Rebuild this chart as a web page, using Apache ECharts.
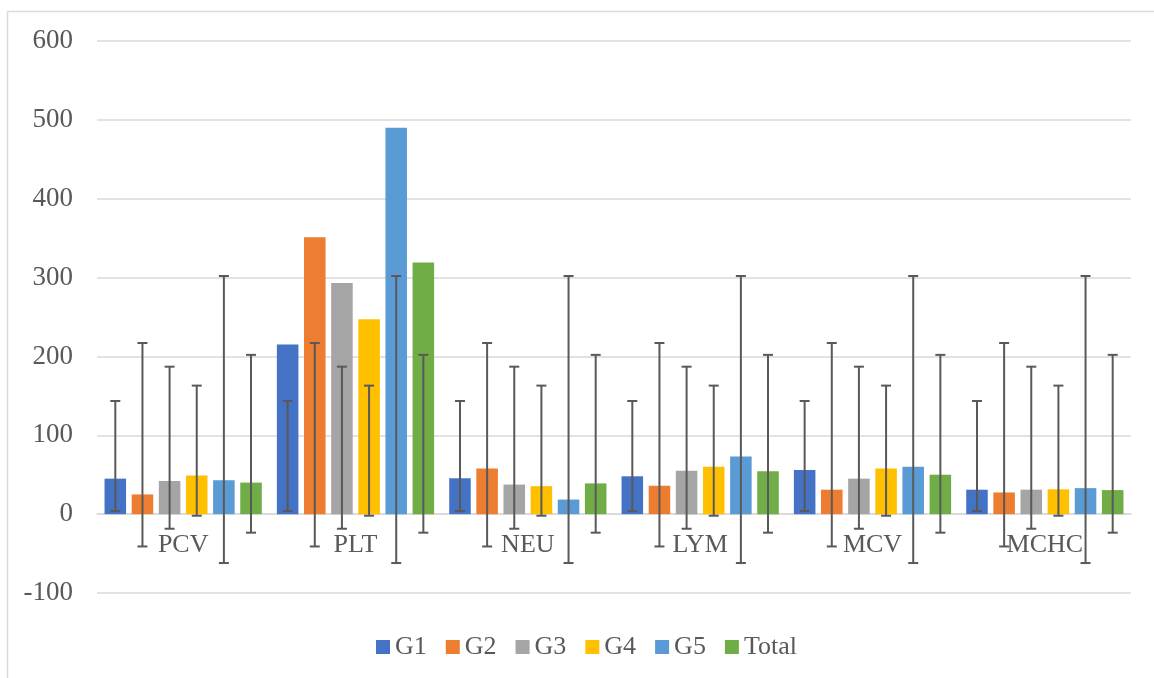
<!DOCTYPE html>
<html>
<head>
<meta charset="utf-8">
<script src="https://cdn.jsdelivr.net/npm/echarts@6/dist/echarts.min.js"></script>
<style>
html, body { margin: 0; padding: 0; background: #fff; }
#chart-box { width: 1154px; height: 678px; }
</style>
</head>
<body>
<div id="chart-box"></div>
<script>
// categories and series
var categories = ['PCV', 'PLT', 'NEU', 'LYM', 'MCV', 'MCHC'];
var seriesNames = ['G1', 'G2', 'G3', 'G4', 'G5', 'Total'];
var colors = ['#4472C4', '#ED7D31', '#A5A5A5', '#FFC000', '#5B9BD5', '#70AD47'];

var g1 = [45, 215, 45.5, 48, 56, 31];
var g2 = [25, 351, 58, 36, 31, 27.5];
var g3 = [42, 293, 37.5, 55, 45, 31];
var g4 = [49, 247, 35.5, 60, 58, 31.5];
var g5 = [43, 490, 18.5, 73, 60, 33];
var total = [40, 319, 39, 54.5, 50, 30.5];

// error bar ends (same for every category in the source)
var errLow = [4, -41, -18.5, -2, -62, -23.5];
var errHigh = [143.5, 217, 187, 163, 302, 202];

var values = [g1, g2, g3, g4, g5, total];
var yTicks = [-100, 0, 100, 200, 300, 400, 500, 600];

var font = '"Liberation Serif", "Times New Roman", serif';
var barPct = 0.125;
var gapPct = 0.26;
var gridTop = 41, gridBottom = 85, chartH = 678;

var series = [];
values.forEach(function (arr, i) {
    series.push({
        name: seriesNames[i],
        type: 'bar',
        data: arr,
        barWidth: (barPct * 100) + '%',
        barGap: (gapPct * 100) + '%',
        itemStyle: { color: colors[i] },
        z: 2
    });
});
values.forEach(function (arr, i) {
    series.push({
        name: seriesNames[i] + '-err',
        type: 'custom',
        z: 5,
        silent: true,
        data: arr.map(function (v, c) { return [c, errLow[i], errHigh[i]]; }),
        renderItem: function (params, api) {
            var band = api.size([1, 0])[0];
            var pitch = band * barPct * (1 + gapPct);
            var off = (i - 2.5) * pitch;
            var lo = api.coord([api.value(0), api.value(1)]);
            var hi = api.coord([api.value(0), api.value(2)]);
            var x = lo[0] + off;
            var cap = 5;
            var style = { stroke: '#595959', lineWidth: 2 };
            return {
                type: 'group',
                children: [
                    { type: 'line', shape: { x1: x, y1: lo[1], x2: x, y2: hi[1] }, style: style },
                    { type: 'line', shape: { x1: x - cap, y1: lo[1], x2: x + cap, y2: lo[1] }, style: style },
                    { type: 'line', shape: { x1: x - cap, y1: hi[1], x2: x + cap, y2: hi[1] }, style: style }
                ]
            };
        }
    });
});

// move the category axis up to the zero line
var plotH = chartH - gridTop - gridBottom;
var yMin = yTicks[0], yMax = yTicks[yTicks.length - 1];
var zeroOffset = -plotH * (0 - yMin) / (yMax - yMin);

var myChart = echarts.init(document.getElementById('chart-box'));
var option = {
    backgroundColor: '#fff',
    animation: false,
    textStyle: { fontFamily: font },
    graphic: [
        { type: 'line', shape: { x1: 7.5, y1: 11.5, x2: 1154, y2: 11.5 }, style: { stroke: '#d9d9d9', lineWidth: 1.5 } },
        { type: 'line', shape: { x1: 7.5, y1: 11.5, x2: 7.5, y2: 678 }, style: { stroke: '#d9d9d9', lineWidth: 1.5 } }
    ],
    legend: {
        data: seriesNames,
        bottom: 13,
        left: 371,
        itemWidth: 14,
        itemHeight: 14,
        itemGap: 19,
        icon: 'rect',
        textStyle: { fontFamily: font, fontSize: 26, color: '#595959' }
    },
    grid: {
        left: 97,
        right: 23,
        top: gridTop,
        bottom: gridBottom
    },
    xAxis: {
        type: 'category',
        data: categories,
        offset: zeroOffset,
        axisLine: { onZero: false, lineStyle: { color: '#d9d9d9', width: 1.5 } },
        axisTick: { show: false },
        axisLabel: { fontFamily: font, fontSize: 26, color: '#595959', margin: 18 }
    },
    yAxis: {
        type: 'value',
        min: yMin,
        max: yMax,
        interval: 100,
        axisLine: { show: false },
        axisTick: { show: false },
        splitLine: { lineStyle: { color: '#d9d9d9', width: 1.5 } },
        axisLabel: { fontFamily: font, fontSize: 27, color: '#595959', margin: 24 }
    },
    series: series
};
myChart.setOption(option);
</script>
</body>
</html>
